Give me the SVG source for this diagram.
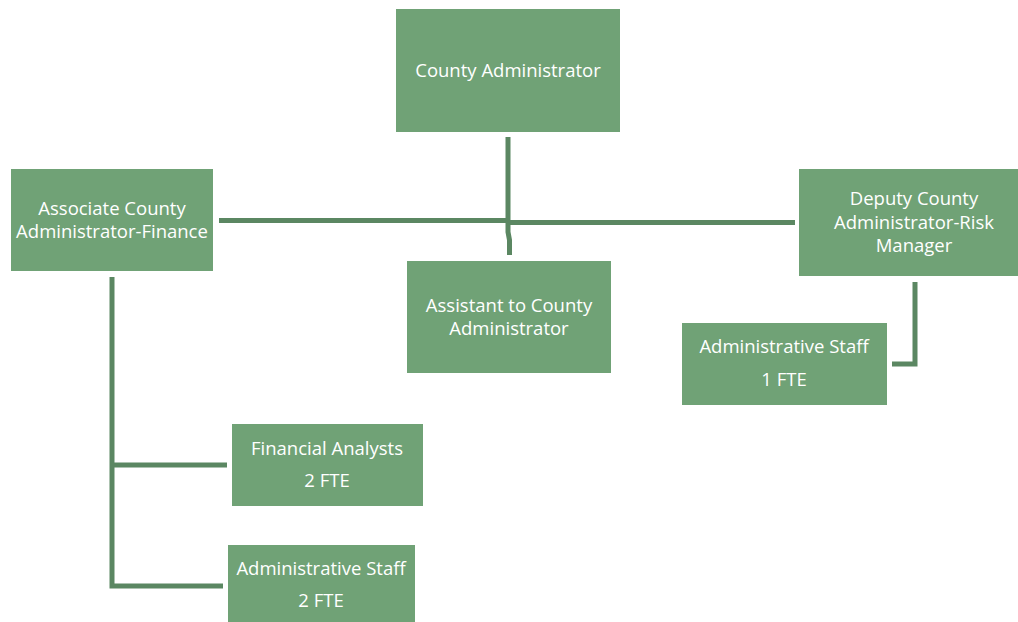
<svg xmlns="http://www.w3.org/2000/svg" width="1018" height="622" viewBox="0 0 1018 622">
<style>
.box{fill:#70a276}
.t{font-family:"Open Sans","Liberation Sans",sans-serif;font-size:18.5px;fill:#ffffff;text-anchor:middle}
.c{fill:none;stroke:#5b8762;stroke-width:5}
</style>
<rect width="1018" height="622" fill="#ffffff"/>
<g id="connectors">
<path class="c" d="M508,137 V232 L509.5,240 V255"/>
<path class="c" d="M219,220.5 H508"/>
<path class="c" d="M508,222.5 H795"/>
<path class="c" d="M112,277 V586 H223"/>
<path class="c" d="M112,465 H227"/>
<path class="c" d="M915,282 V364 H892"/>
</g>
<g id="county-admin">
<rect class="box" x="396" y="9" width="224" height="123"/>
<text class="t" x="508" y="77">County Administrator</text>
</g>
<g id="associate">
<rect class="box" x="11" y="169" width="202" height="102"/>
<text class="t" x="112" y="215">Associate County</text>
<text class="t" x="112" y="238">Administrator-Finance</text>
</g>
<g id="assistant">
<rect class="box" x="407" y="261" width="204" height="112"/>
<text class="t" x="509" y="312">Assistant to County</text>
<text class="t" x="509" y="335">Administrator</text>
</g>
<g id="deputy">
<rect class="box" x="799" y="169" width="219" height="107"/>
<text class="t" x="914" y="205">Deputy County</text>
<text class="t" x="914" y="229">Administrator-Risk</text>
<text class="t" x="914" y="252">Manager</text>
</g>
<g id="admin-staff-1">
<rect class="box" x="682" y="323" width="205" height="82"/>
<text class="t" x="784" y="353">Administrative Staff</text>
<text class="t" x="784" y="386">1 FTE</text>
</g>
<g id="financial-analysts">
<rect class="box" x="232" y="424" width="191" height="82"/>
<text class="t" x="327" y="455">Financial Analysts</text>
<text class="t" x="327" y="487">2 FTE</text>
</g>
<g id="admin-staff-2">
<rect class="box" x="228" y="545" width="187" height="80"/>
<text class="t" x="321" y="575">Administrative Staff</text>
<text class="t" x="321" y="607">2 FTE</text>
</g>
</svg>
